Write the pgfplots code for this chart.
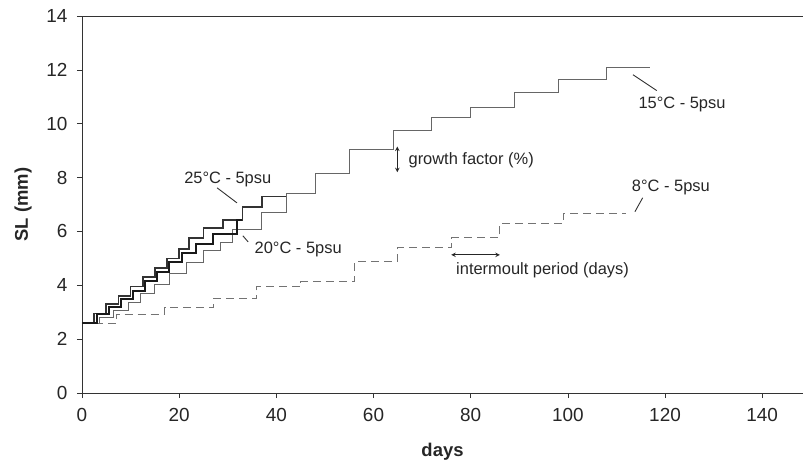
\documentclass[border=0pt]{standalone}
\usepackage{fontspec}
\setmainfont{Liberation Sans}
\usepackage{pgfplots}
\pgfplotsset{compat=1.18}
\begin{document}
\begin{tikzpicture}[x=1bp,y=1bp]
\begin{axis}[
  name=ax,
  scale only axis,
  width=721bp, height=377bp,
  xmin=0, xmax=148.4, ymin=0, ymax=14,
  axis lines=left,
  axis line style={line width=0.9bp, black!80, -},
  xtick={0,20,...,140}, ytick={0,2,...,14},
  tick align=outside, major tick length=5bp,
  tick style={line width=0.7bp, black!80},
  /pgf/number format/assume math mode=true,
  ticklabel style={font=\fontsize{19}{21}\selectfont, text=black!85},
  xticklabel style={yshift=-7bp},
  yticklabel style={xshift=-6bp},
  xlabel={\bfseries days}, ylabel={\bfseries SL (mm)},
  label style={font=\fontsize{18.5}{20}\selectfont, text=black!85},
  xlabel style={yshift=-14bp},
  ylabel style={yshift=8bp},
  clip=false,
]
% 15 C thin
\addplot[const plot, line width=0.8bp, black!60] coordinates {
(0,2.6) (3.5,2.8) (6.5,3.05) (9.5,3.35) (12,3.7) (15,4.05) (18,4.45) (21.5,4.85) (25,5.3) (28.5,5.6) (31,6.08) (37,6.72) (42,7.43) (48,8.15) (55,9.03) (64,9.75) (72,10.22) (80,10.62) (89,11.18) (98,11.64) (108,12.08) (117,12.08)};
% 8 C dashed
\addplot[const plot, line width=0.9bp, black!55, dash pattern=on 8bp off 5bp] coordinates {
(0,2.58) (7,2.93) (17,3.17) (27,3.5) (36,3.95) (45,4.13) (56,4.87) (65,5.39) (76,5.77) (86,6.28) (99,6.65) (112,6.65)};
% 25 C thick
\addplot[const plot, line width=1.6bp, black!80] coordinates {
(0,2.6) (2.5,2.95) (5,3.3) (7.5,3.6) (10,3.95) (12.5,4.3) (15,4.65) (17.5,5.0) (20,5.35) (22,5.76) (25,6.13) (29,6.43) (33,6.9) (37,7.3) (42,7.3)};
% 20 C thick
\addplot[const plot, line width=2bp, black!90] coordinates {
(0,2.6) (3,2.95) (5.5,3.2) (8,3.5) (10.5,3.8) (13,4.15) (15.5,4.5) (18,4.85) (20.5,5.2) (23.5,5.55) (27,5.9) (32,6.43) (33,6.43)};
% annotations
\draw[black!80, line width=0.9bp] (axis cs:113.4,11.82) -- (axis cs:118.3,11.23);
\node[font=\fontsize{16.5}{18}\selectfont, text=black!85] at (axis cs:123.5,10.7) {15°C - 5psu};
\draw[black!80, line width=0.9bp] (axis cs:115.4,7.25) -- (axis cs:113.8,6.73);
\node[font=\fontsize{16.5}{18}\selectfont, text=black!85] at (axis cs:121.2,7.62) {8°C - 5psu};
\draw[black!80, line width=0.9bp] (axis cs:27.8,7.62) -- (axis cs:31.9,7.06);
\node[font=\fontsize{16.5}{18}\selectfont, text=black!85] at (axis cs:30,7.92) {25°C - 5psu};
\draw[black!80, line width=0.9bp] (axis cs:33.1,5.84) -- (axis cs:34.2,5.61);
\node[font=\fontsize{16.5}{18}\selectfont, text=black!85] at (axis cs:44.5,5.32) {20°C - 5psu};
\draw[<->, >=stealth, black!85, line width=1bp] (axis cs:64.9,9.15) -- (axis cs:64.9,8.2);
\node[anchor=west, font=\fontsize{16.5}{18}\selectfont, text=black!85] at (axis cs:66.5,8.66) {growth factor (\%)};
\draw[<->, >=stealth, black!85, line width=1bp] (axis cs:76,5.13) -- (axis cs:86,5.13);
\node[anchor=west, font=\fontsize{16.5}{18}\selectfont, text=black!85] at (axis cs:76.3,4.57) {intermoult period (days)};
\end{axis}
\draw[line width=0.9bp, black!80] (ax.north west) -- (ax.north east);
\pgfresetboundingbox
\path[use as bounding box] ([xshift=-82bp,yshift=-75bp]ax.south west) rectangle ([yshift=16bp]ax.north east);
\end{tikzpicture}
\end{document}
